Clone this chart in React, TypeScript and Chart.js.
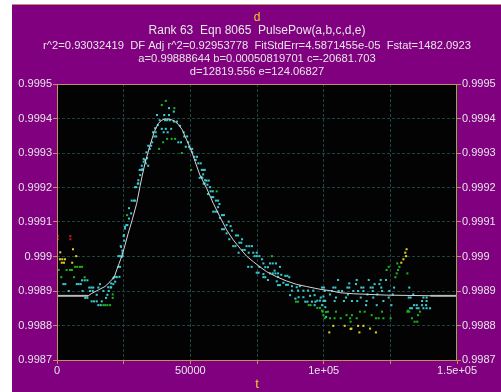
import React, { useEffect, useRef } from "react";
import { Chart, registerables } from "chart.js";

Chart.register(...registerables);

type P = [number, number];

const titleMain = "d";
const titleLines = [
  "Rank 63  Eqn 8065  PulsePow(a,b,c,d,e)",
  "r^2=0.93032419  DF Adj r^2=0.92953778  FitStdErr=4.5871455e-05  Fstat=1482.0923",
  "a=0.99888644 b=0.00050819701 c=-20681.703",
  "d=12819.556 e=124.06827",
];
const xAxisTitle = "t";
const xTickLabels: Record<number, string> = { 0: "0", 50000: "50000", 100000: "1e+05", 150000: "1.5e+05" };

const fitCurve: P[] = [
  [0, 0.998886], [11700, 0.998886], [13000, 0.998893], [15500, 0.998903], [18000, 0.998913],
  [19900, 0.998927], [21500, 0.998941], [22400, 0.998961], [23300, 0.99898], [24300, 0.999001],
  [25500, 0.999033], [26700, 0.999067], [28200, 0.999106], [29900, 0.999154], [31100, 0.999202],
  [32000, 0.999236], [33000, 0.99927], [34900, 0.999323], [36500, 0.999362], [38000, 0.999386],
  [39300, 0.999395], [40500, 0.999399], [42400, 0.999398], [44000, 0.999393], [45500, 0.999383],
  [47000, 0.999367], [48600, 0.999338], [50300, 0.999309], [51800, 0.999275], [53600, 0.999236],
  [56100, 0.999198], [58600, 0.999154], [61100, 0.999115], [63600, 0.999077], [66100, 0.999048],
  [68600, 0.999024], [71100, 0.999001], [73600, 0.998985], [76100, 0.99897], [78600, 0.998956],
  [82400, 0.998941], [86100, 0.998929], [89900, 0.998919], [93600, 0.998913], [98600, 0.998905],
  [102400, 0.998901], [106100, 0.998895], [111100, 0.998892], [123600, 0.998888], [142400, 0.998886],
  [150000, 0.998886],
];
const fitLeftFlat: P[] = [[0, 0.998886], [11700, 0.998886]];
const fitRightFlat: P[] = [[140000, 0.998886], [150000, 0.998886]];

const redPoints: P[] = [[300, 0.999059], [300, 0.99905], [5000, 0.999059], [5000, 0.99905]];

const yellowPoints: P[] = [
  [1200, 0.999012], [6000, 0.999021], [1100, 0.998992], [2000, 0.998992], [3000, 0.998992],
  [7200, 0.999001], [1800, 0.998982], [2600, 0.998982], [5700, 0.998982],
  [131100, 0.999021], [130600, 0.999011], [130900, 0.999001], [129900, 0.998992], [129100, 0.998982],
  [103600, 0.998799], [107900, 0.998799], [110400, 0.998791], [112900, 0.998799], [114900, 0.998799],
  [117400, 0.998791], [102100, 0.99878], [113400, 0.99878], [119600, 0.99878], [110100, 0.99879],
];

const greenPoints: P[] = [
  [0, 0.99897], [600, 0.998961], [3600, 0.998961], [4900, 0.998961], [5600, 0.998961],
  [6800, 0.99897], [7600, 0.99897], [8600, 0.99897], [9400, 0.99897], [1600, 0.99894],
  [6400, 0.99894], [10400, 0.99894], [20900, 0.99889], [20900, 0.99888], [17400, 0.998859],
  [18100, 0.998859], [18900, 0.998859], [19900, 0.998859], [26300, 0.99912],
  [40800, 0.999451], [39300, 0.999439], [44000, 0.99943], [41300, 0.999341], [43000, 0.999341],
  [44300, 0.999341], [39800, 0.999331], [38300, 0.999312], [46800, 0.9993], [50300, 0.999251],
  [59900, 0.999189], [80600, 0.999001], [89600, 0.998869], [90400, 0.998869], [94400, 0.998859],
  [95100, 0.998859], [97600, 0.998851], [98600, 0.998851], [99400, 0.998843], [100900, 0.998839],
  [99900, 0.99883],
  [99600, 0.99884], [101600, 0.99884], [104600, 0.99884], [113600, 0.99884], [115400, 0.99884],
  [121900, 0.99884], [131400, 0.99884], [132100, 0.99884], [136100, 0.99884],
  [100400, 0.998821], [102400, 0.998821], [104100, 0.998821], [106400, 0.998821], [109900, 0.998821],
  [112400, 0.998821], [119600, 0.998821], [120600, 0.998821], [122400, 0.998821], [125100, 0.998821],
  [133100, 0.998821], [108600, 0.99883], [110600, 0.99883], [118000, 0.99883], [135400, 0.99883],
  [110100, 0.998811], [134100, 0.998811], [135100, 0.998811],
  [124400, 0.99897], [127600, 0.99898], [128400, 0.99897], [127900, 0.998961], [127400, 0.998951],
  [126900, 0.99894], [131400, 0.998951], [123600, 0.998961], [131600, 0.998843],
];

const cyanPoints: P[] = [
  [2400, 0.99892], [3100, 0.99892], [7400, 0.99892], [8100, 0.99892], [8900, 0.99892],
  [9400, 0.998931], [10400, 0.998931], [11400, 0.998931], [4400, 0.9989], [9600, 0.9989],
  [12100, 0.99891], [12900, 0.99891], [13600, 0.99891], [12400, 0.9989], [13400, 0.9989],
  [16100, 0.99892], [15500, 0.99891], [10600, 0.99888], [11400, 0.99888], [13000, 0.99887],
  [13900, 0.99887], [14900, 0.99887], [16800, 0.99887], [14900, 0.998889], [17400, 0.9989],
  [19400, 0.9989], [18900, 0.998889], [18400, 0.99888], [20100, 0.99891], [21100, 0.99892],
  [15500, 0.998859], [16400, 0.998859], [21400, 0.99894], [22400, 0.99894], [23000, 0.99897],
  [23600, 0.999001], [24600, 0.999001], [23900, 0.99903], [25100, 0.999062], [25500, 0.999086],
  [26400, 0.999091], [24600, 0.999009], [23400, 0.998941], [21800, 0.998927], [19200, 0.998911],
  [20300, 0.998911], [20300, 0.998922], [21100, 0.998937], [22200, 0.998941], [23600, 0.99897],
  [23000, 0.999001], [24300, 0.998999], [24500, 0.999017], [24000, 0.999028], [25200, 0.999046],
  [25000, 0.999059], [25500, 0.999081], [26000, 0.999091], [27000, 0.99911], [27800, 0.999125],
  [27000, 0.99914], [28000, 0.999162], [28800, 0.999162], [29300, 0.999162], [29300, 0.999201],
  [29700, 0.999201], [30500, 0.999212], [31500, 0.999251], [32000, 0.999253], [32500, 0.999275],
  [33000, 0.99928],
  [42000, 0.99943], [43800, 0.99942], [37500, 0.99941], [40200, 0.99941], [42000, 0.99941],
  [38500, 0.999395], [40500, 0.999395], [41300, 0.999395], [42300, 0.999395], [43800, 0.999391],
  [45000, 0.999391], [46100, 0.999379], [37800, 0.999381], [36800, 0.999372], [39300, 0.99937],
  [40800, 0.99937], [42800, 0.99937], [36000, 0.99936], [37000, 0.99936], [47500, 0.99936],
  [40000, 0.99936], [41500, 0.99936], [36500, 0.999348], [37200, 0.999348], [47700, 0.999348],
  [48800, 0.999348], [45500, 0.999331], [46500, 0.999331], [35700, 0.999331], [49200, 0.999331],
  [34200, 0.999321], [35300, 0.999321], [48300, 0.999318], [49500, 0.999318], [50000, 0.999312],
  [50700, 0.999312], [34800, 0.999312], [33500, 0.999302], [50700, 0.999302], [51500, 0.999289],
  [52500, 0.999289], [32500, 0.999283], [33800, 0.999285], [52000, 0.99928], [33300, 0.99927],
  [53000, 0.99927], [31800, 0.999263], [34200, 0.999263], [54300, 0.999251], [31000, 0.999251],
  [32000, 0.999251], [54800, 0.999238], [31200, 0.999236], [53500, 0.999228], [54500, 0.999228],
  [30500, 0.999221], [55500, 0.999221], [30300, 0.999211], [55000, 0.999211],
  [53900, 0.99927], [54900, 0.999251], [55400, 0.999251], [54100, 0.999231], [56100, 0.99922],
  [56900, 0.99922], [55400, 0.999212], [56400, 0.999208], [57400, 0.999201], [57600, 0.999189],
  [58400, 0.999189], [56600, 0.999181], [58100, 0.999172], [58600, 0.999172], [59600, 0.999162],
  [60400, 0.999162], [60900, 0.999152], [60400, 0.999143], [58600, 0.99913], [59400, 0.99913],
  [60100, 0.99913], [61900, 0.99912], [62600, 0.99912], [61100, 0.999112], [64400, 0.999101],
  [63600, 0.999091], [65100, 0.999088], [61900, 0.999079], [62600, 0.999079], [65600, 0.999075],
  [63600, 0.999067], [67100, 0.999061], [67900, 0.999061], [64600, 0.99905], [69400, 0.99905],
  [68400, 0.99904], [69100, 0.99904], [66100, 0.99903], [66900, 0.99903], [71100, 0.99903],
  [72100, 0.99903], [73100, 0.99903], [69600, 0.999019], [70400, 0.999019], [68100, 0.999011],
  [71900, 0.999011], [73600, 0.999011], [74900, 0.999011], [74100, 0.999001], [74900, 0.999001],
  [75900, 0.999001], [76900, 0.998992], [77400, 0.99898], [79900, 0.99898], [80900, 0.99898],
  [82100, 0.99898], [71700, 0.99897], [73000, 0.99897], [75900, 0.99897], [78100, 0.998969],
  [79100, 0.998969], [83600, 0.99897], [81600, 0.998959], [74900, 0.998953], [75600, 0.998953],
  [77400, 0.998949], [79900, 0.998951], [80900, 0.998951], [81900, 0.998951], [82900, 0.998951],
  [84100, 0.998947], [85600, 0.998944], [86400, 0.998944], [77400, 0.99894], [78100, 0.99894],
  [82900, 0.998941], [87100, 0.99894], [79100, 0.998932], [82400, 0.998928], [84900, 0.998924],
  [82900, 0.998917], [83600, 0.998917], [85900, 0.998918], [86600, 0.998918], [88100, 0.998914],
  [89900, 0.998911], [91100, 0.998914], [88100, 0.998901], [90400, 0.998901], [92400, 0.998901],
  [94100, 0.998901], [96100, 0.998901], [87400, 0.998888], [89400, 0.998878], [90600, 0.998882],
  [92400, 0.998882], [94900, 0.998886], [96600, 0.998888], [99900, 0.998884], [93100, 0.998869],
  [93900, 0.998869], [95600, 0.998869], [96900, 0.998869], [97600, 0.998872], [98600, 0.998872],
  [100400, 0.998872], [96600, 0.998859], [99400, 0.998859], [100600, 0.998853], [100900, 0.998825],
  [105400, 0.998932], [109600, 0.998922], [112400, 0.998932], [116900, 0.998932], [121400, 0.998932],
  [123400, 0.998932], [112100, 0.99892], [119100, 0.99892], [120900, 0.99892], [99400, 0.99891],
  [100100, 0.99891], [103600, 0.99891], [104400, 0.99891], [108900, 0.99891], [109600, 0.99891],
  [114100, 0.99891], [114900, 0.99891], [117600, 0.99891], [118400, 0.99891], [121600, 0.99891],
  [126400, 0.99891], [132100, 0.99891], [100400, 0.9989], [103100, 0.9989], [105600, 0.9989],
  [106900, 0.9989], [111100, 0.9989], [112900, 0.9989], [114900, 0.9989], [118400, 0.9989],
  [121900, 0.9989], [124600, 0.9989], [102400, 0.99889], [109100, 0.99889], [116400, 0.99889],
  [120100, 0.99889], [125900, 0.99889], [133600, 0.99889], [98900, 0.998881], [104600, 0.998881],
  [108400, 0.998881], [113900, 0.998881], [118600, 0.998881], [124400, 0.998881], [131900, 0.998881],
  [132600, 0.998881], [137400, 0.998881], [138600, 0.998881], [99900, 0.998871], [100600, 0.998871],
  [104100, 0.998871], [107600, 0.998871], [110600, 0.998871], [112600, 0.998871], [116100, 0.998871],
  [122400, 0.998871], [136900, 0.998871], [138600, 0.998871], [133900, 0.998859], [134900, 0.998859],
  [136900, 0.998859], [138400, 0.998859], [125400, 0.998859], [119900, 0.998859], [115900, 0.998859],
  [132400, 0.99885], [133100, 0.99885], [134900, 0.99885], [135600, 0.99885], [137400, 0.99885],
  [138600, 0.99885], [139900, 0.99885],
];

const FONT = "'Liberation Sans', Arial, sans-serif";
const TAN = "#c09060";
const GRID = "#1c4242";
const LABEL = "#e6e6e6";
const YELLOW = "#f0d020";

const toXY = (a: P[]) => a.map(([x, y]) => ({ x, y }));

const decorPlugin = {
  id: "decor",
  beforeDraw(chart: any) {
    const { ctx, chartArea: a, width, height } = chart;
    ctx.save();
    ctx.fillStyle = "#ffffff";
    ctx.fillRect(0, 0, width, height);
    ctx.fillStyle = "#800080";
    ctx.fillRect(12, 4, width - 12, height - 4);
    ctx.fillStyle = TAN;
    ctx.fillRect(12, 4, width - 12, 1);
    ctx.fillStyle = "#030303";
    ctx.fillRect(a.left, a.top, a.right - a.left, a.bottom - a.top);
    const cx = (a.left + a.right) / 2;
    ctx.textAlign = "center";
    ctx.textBaseline = "alphabetic";
    ctx.fillStyle = YELLOW;
    ctx.font = `12px ${FONT}`;
    ctx.fillText(titleMain, cx, 21);
    ctx.fillStyle = LABEL;
    ctx.font = `12px ${FONT}`;
    ctx.fillText(titleLines[0], cx, 34);
    ctx.font = `11.2px ${FONT}`;
    ctx.fillText(titleLines[1], cx, 49);
    ctx.fillText(titleLines[2], cx, 62);
    ctx.fillText(titleLines[3], cx, 75);
    ctx.fillStyle = YELLOW;
    ctx.font = `13px ${FONT}`;
    ctx.fillText(xAxisTitle, cx, 388);
    ctx.restore();
  },
  afterDatasetsDraw(chart: any) {
    const { ctx, chartArea: a } = chart;
    ctx.save();
    ctx.strokeStyle = TAN;
    ctx.lineWidth = 1;
    ctx.strokeRect(a.left + 0.5, a.top + 0.5, a.right - a.left - 1, a.bottom - a.top);
    ctx.restore();
  },
};

const yTickFmt = (v: any) => parseFloat(Number(v).toFixed(4)).toString();

export default function App() {
  const ref = useRef<HTMLCanvasElement | null>(null);
  useEffect(() => {
    document.body.style.margin = "0";
    const canvas = ref.current!;
    const pointDs = (data: P[], color: string) => ({
      type: "scatter" as const,
      data: toXY(data),
      backgroundColor: color,
      borderColor: color,
      pointStyle: "rect" as const,
      pointRadius: 1.45,
      pointBorderWidth: 0,
      showLine: false,
    });
    const lineDs = (data: P[], color: string, w: number) => ({
      type: "line" as const,
      data: toXY(data),
      borderColor: color,
      borderWidth: w,
      pointRadius: 0,
      fill: false,
      tension: 0,
    });
    const yScale = (pos: "left" | "right", w: number) => ({
      type: "linear" as const,
      position: pos,
      min: 0.9987,
      max: 0.9995,
      afterFit: (s: any) => {
        s.width = w;
      },
      ticks: {
        stepSize: 0.0001,
        color: LABEL,
        font: { family: FONT, size: 11 },
        padding: 1,
        callback: yTickFmt,
      },
      grid: {
        color: GRID,
        tickColor: TAN,
        tickLength: 4,
        drawOnChartArea: pos === "left",
      },
      border: { display: false, dash: [3, 2] },
    });
    const chart = new Chart(canvas, {
      type: "scatter",
      data: {
        datasets: [
          lineDs(fitCurve, "#d4d4d4", 1),
          lineDs(fitLeftFlat, "#8c8c8c", 2),
          lineDs(fitRightFlat, "#8c8c8c", 2),
          pointDs(redPoints, "#d01818"),
          pointDs(yellowPoints, "#e0d020"),
          pointDs(greenPoints, "#20b020"),
          pointDs(cyanPoints, "#38c8d0"),
        ] as any,
      },
      options: {
        animation: false,
        responsive: false,
        maintainAspectRatio: false,
        layout: { padding: { left: 12, top: 84, right: 0, bottom: 0 } },
        plugins: { legend: { display: false }, title: { display: false }, tooltip: { enabled: false } },
        scales: {
          x: {
            type: "linear",
            min: 0,
            max: 150000,
            afterFit: (s: any) => {
              s.height = 32;
            },
            ticks: {
              stepSize: 25000,
              autoSkip: false,
              maxRotation: 0,
              color: LABEL,
              font: { family: FONT, size: 11 },
              padding: 0,
              callback: (v: any) => xTickLabels[Number(v)] ?? "",
            },
            grid: { color: GRID, tickColor: TAN, tickLength: 4 },
            border: { display: false, dash: [3, 2] },
          },
          y: yScale("left", 45),
          y2: yScale("right", 44),
        },
      } as any,
      plugins: [decorPlugin],
    });
    return () => chart.destroy();
  }, []);
  return (
    <div style={{ position: "absolute", left: 0, top: 0 }}>
      <canvas ref={ref} width={501} height={392} style={{ display: "block", width: 501, height: 392 }} />
    </div>
  );
}
